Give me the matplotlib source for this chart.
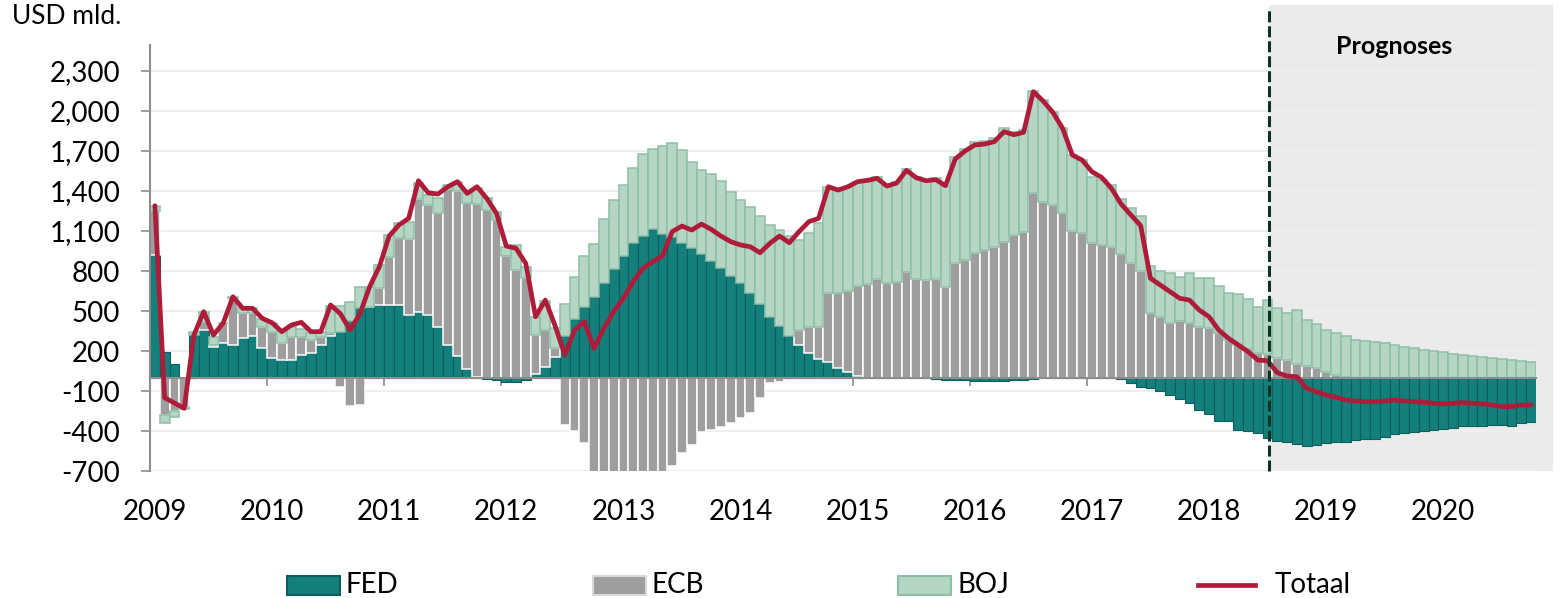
#!/usr/bin/env python3
import matplotlib
matplotlib.use("Agg")
import matplotlib.pyplot as plt
import matplotlib.transforms as mtransforms
import numpy as np
from matplotlib.lines import Line2D
from matplotlib.patches import Rectangle

# monthly data, jan 2009 - okt 2020 (USD mld.)
years = [str(y) for y in range(2009, 2021)]
fed = [920, 195, 102, 0, 320, 357, 228, 258, 245, 295, 312, 220,
       145, 132, 132, 170, 187, 245, 312, 345, 427, 520, 532, 545,
       545, 545, 470, 495, 470, 382, 245, 162, 62, 5, -10, -20,
       -35, -35, -15, 30, 82, 157, 312, 440, 532, 607, 712, 815,
       915, 1007, 1065, 1115, 1077, 1057, 1007, 970, 927, 875, 825, 765,
       712, 632, 550, 452, 387, 315, 245, 187, 137, 120, 70, 45,
       12, 0, 0, -5, -5, -5, -5, -5, -10, -15, -15, -20,
       -25, -25, -25, -25, -20, -15, -10, -5, 0, 0, 0, 0,
       0, 0, -5, -10, -37, -72, -80, -97, -130, -162, -192, -242,
       -272, -322, -322, -392, -397, -412, -455, -472, -480, -497, -512, -505,
       -492, -485, -480, -467, -460, -460, -447, -422, -417, -410, -397, -392,
       -387, -375, -362, -360, -360, -355, -355, -360, -337, -330]
ecb = [330, -280, -250, -220, -15, 62, 20, 150, 350, 190, 170, 160,
       200, 125, 175, 137, 95, 60, 20, -67, -212, -205, 0, 125,
       362, 500, 567, 842, 825, 855, 1170, 1240, 1245, 1295, 1257, 1182,
       912, 807, 745, 290, 275, 62, -355, -400, -492, -782, -817, -837,
       -850, -850, -857, -842, -828, -662, -567, -505, -405, -392, -367, -342,
       -305, -267, -155, -42, -30, -20, 112, 195, 245, 512, 562, 607,
       675, 702, 740, 707, 715, 795, 740, 732, 740, 677, 857, 882,
       932, 957, 982, 1020, 1070, 1095, 1382, 1320, 1295, 1237, 1102, 1087,
       1012, 995, 982, 927, 862, 802, 482, 457, 412, 427, 407, 382,
       370, 332, 282, 245, 212, 187, 177, 150, 132, 102, 87, 75,
       42, 20, 5, 0, 0, 0, 0, 0, 0, 0, 0, 0,
       0, 0, 0, 0, 0, 0, 0, 0, 0, 0]
boj = [40, -62, -42, -15, 20, 75, 60, 0, 12, 35, 38, 60,
       65, 87, 75, 55, 55, 40, 205, 195, 143, 162, 150, 175,
       163, 117, 133, 120, 75, 113, 30, 68, 75, 120, 88, 63,
       70, 188, 87, 137, 220, 150, 240, 317, 380, 395, 475, 517,
       530, 563, 612, 597, 663, 700, 700, 645, 630, 650, 652, 630,
       620, 650, 662, 693, 720, 747, 675, 700, 775, 800, 775, 780,
       782, 767, 767, 730, 755, 767, 767, 750, 755, 760, 800, 830,
       837, 820, 812, 850, 775, 762, 770, 762, 700, 632, 567, 545,
       495, 487, 463, 410, 408, 410, 355, 343, 370, 330, 380, 363,
       375, 355, 350, 382, 375, 345, 405, 370, 350, 405, 345, 327,
       315, 317, 307, 282, 277, 267, 257, 245, 232, 220, 207, 200,
       190, 177, 170, 160, 152, 145, 140, 132, 127, 120]
totaal = [1290, -150, -190, -230, 320, 495, 320, 410, 607, 520, 520, 445,
          412, 345, 395, 415, 345, 345, 545, 480, 358, 477, 682, 832,
          1062, 1145, 1195, 1477, 1387, 1377, 1432, 1470, 1382, 1432, 1345, 1232,
          987, 970, 857, 457, 582, 390, 170, 357, 420, 220, 370, 495,
          595, 720, 820, 870, 912, 1095, 1137, 1107, 1152, 1112, 1062, 1020,
          995, 982, 937, 1007, 1062, 1012, 1095, 1170, 1195, 1432, 1407, 1432,
          1470, 1480, 1495, 1437, 1460, 1555, 1500, 1477, 1485, 1440, 1640, 1700,
          1745, 1752, 1770, 1845, 1822, 1840, 2145, 2075, 1990, 1870, 1670, 1632,
          1545, 1502, 1420, 1302, 1220, 1140, 745, 695, 645, 595, 582, 507,
          457, 357, 295, 245, 195, 132, 127, 37, 12, 7, -80, -105,
          -130, -147, -167, -175, -180, -182, -175, -167, -175, -180, -185, -192,
          -197, -192, -187, -192, -197, -205, -217, -217, -205, -205]
labels = ["FED", "ECB", "BOJ"]
forecast_start = 114.6  # month index, half juli 2018
yticks = list(range(-700, 2301, 300))

plt.rcParams["font.family"] = ["Lato", "DejaVu Sans"]

W, H = 1561, 598
fig = plt.figure(figsize=(W / 100, H / 100), dpi=100)
ax = fig.add_axes([150 / W, 1 - 471 / H, (1536 - 150) / W, (471 - 45) / H])
ax.set_facecolor("none")

# stacked bars, positives up and negatives down
series = np.array([fed, ecb, boj], dtype=float)
x = np.arange(series.shape[1])
pos_bottom = np.zeros(len(x))
neg_bottom = np.zeros(len(x))
styles = [("#147f7b", "#0e5f5b", 0.8),
          ("#9e9e9e", "white", 1.1),
          ("#b5d5c5", "#8dbfa6", 1.1)]
for vals, (fc, ec, lw) in zip(series, styles):
    bottom = np.where(vals >= 0, pos_bottom, neg_bottom)
    ax.bar(x, vals, width=1, bottom=bottom, align="edge",
           color=fc, edgecolor=ec, linewidth=lw, zorder=2)
    pos_bottom += np.clip(vals, 0, None)
    neg_bottom += np.clip(vals, None, 0)

ax.plot(x + 0.5, totaal, color="#ae1c3a", lw=3.4, zorder=4,
        solid_joinstyle="round", solid_capstyle="round")

ax.set_xlim(0, len(x))
ax.set_ylim(-700, 2495)
ax.set_yticks(yticks)
ax.set_yticklabels([f"{v:,}" for v in yticks])
ax.yaxis.grid(True, color="#eeeeee", lw=1.5)
ax.set_axisbelow(True)
for side in ["top", "right"]:
    ax.spines[side].set_visible(False)
ax.spines["left"].set_color("#8c8c8c")
ax.spines["left"].set_linewidth(1.5)
ax.spines["bottom"].set_position(("data", 0))
ax.spines["bottom"].set_color("#8c8c8c")
ax.spines["bottom"].set_linewidth(1.5)
ax.spines["bottom"].set_zorder(3)

ax.set_xticks(np.arange(12, len(x), 12))
ax.tick_params(axis="x", length=6, width=1.2, color="#8c8c8c", labelbottom=False)
ax.tick_params(axis="y", length=6.5, width=1.2, color="#8c8c8c",
               labelsize=20, pad=15)

xt = mtransforms.blended_transform_factory(ax.transData, ax.transAxes)
for k, year in enumerate(years):
    ax.text(12 * k + 0.5, -0.096, year, transform=xt, ha="center",
            va="center", fontsize=20)

# forecast area
ft = mtransforms.blended_transform_factory(ax.transData, fig.transFigure)
fig.add_artist(Rectangle((forecast_start, 1 - 471 / H), 143.7 - forecast_start,
                         (471 - 5) / H, transform=ft, facecolor="#ebebeb",
                         edgecolor="none", zorder=-1))
ax.plot([forecast_start, forecast_start], [1 - 471 / H, 1 - 7 / H], transform=ft,
        clip_on=False, color="#0b3320", lw=2.2, dashes=(3.6, 1.3), zorder=5)
fig.text(1394 / W, 1 - 47 / H, "Prognoses", ha="center", va="center",
         fontsize=18, fontweight="bold")

fig.text(12 / W, 1 - 17 / H, "USD mld.", ha="left", va="center", fontsize=19)

# legend
ly = 1 - 585 / H
for left, lab, (fc, ec, lw) in zip([287, 593, 898], labels, styles):
    fig.add_artist(Rectangle((left / W, 1 - 595 / H), 53 / W, 19 / H,
                             transform=fig.transFigure, facecolor=fc,
                             edgecolor=ec if ec != "white" else "#d9d9d9",
                             linewidth=1.5))
    fig.text((left + 59) / W, ly, lab, ha="left", va="center", fontsize=20)
fig.add_artist(Line2D([1198 / W, 1255 / W], [ly, ly], transform=fig.transFigure,
                      color="#ae1c3a", lw=3.4))
fig.text(1275 / W, ly, "Totaal", ha="left", va="center", fontsize=20)

fig.savefig("out.png", dpi=100)
